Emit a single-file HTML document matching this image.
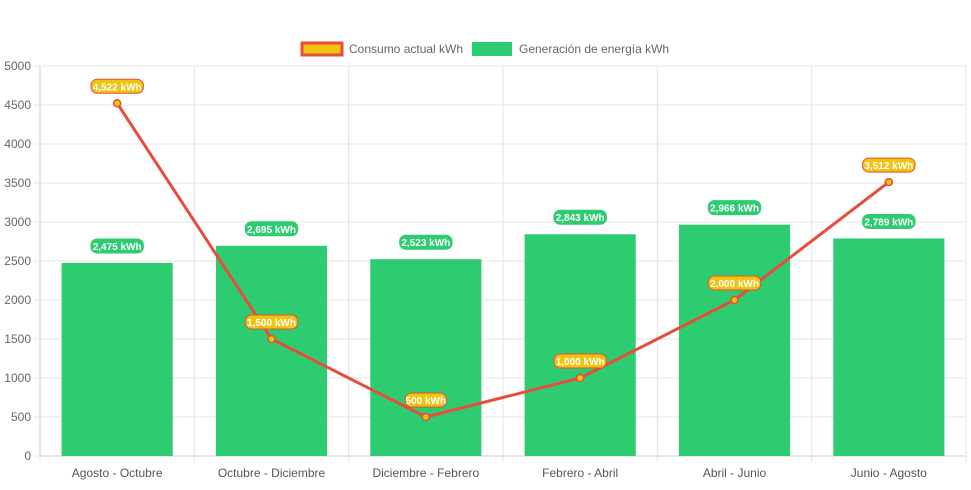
<!DOCTYPE html>
<html><head><meta charset="utf-8"><style>
body{margin:0;background:#fff;font-family:"Liberation Sans",sans-serif}
</style></head><body>
<svg id="c" width="971" height="485" xmlns="http://www.w3.org/2000/svg"></svg>
<script>
const categories=["Agosto - Octubre","Octubre - Diciembre","Diciembre - Febrero","Febrero - Abril","Abril - Junio","Junio - Agosto"];
const consumo=[4522,1500,500,1000,2000,3512];
const generacion=[2475,2695,2523,2843,2966,2789];
const yTicks=[0,500,1000,1500,2000,2500,3000,3500,4000,4500,5000];
const svg=document.getElementById('c');const NS='http://www.w3.org/2000/svg';
const L=40,R=966,T=66,B=456,yMax=5000;
const cw=(R-L)/categories.length;
const x=i=>L+cw*(i+0.5);
const y=v=>B-(v/yMax)*(B-T);
function el(t,a,p){const e=document.createElementNS(NS,t);for(const k in a)e.setAttribute(k,a[k]);(p||svg).appendChild(e);return e;}
const fmt=v=>v.toLocaleString('en-US')+' kWh';
yTicks.forEach(v=>{
 const g=el('line',{x1:L-6,x2:R,y1:y(v),y2:y(v),stroke:'#e4e4e4','stroke-width':1});
 
 const t=el('text',{x:L-9,y:y(v)+4,'text-anchor':'end','font-size':12,fill:'#666'});t.textContent=v;
 
});
for(let i=0;i<=categories.length;i++){
 const g=el('line',{x1:L+cw*i,x2:L+cw*i,y1:T,y2:B+6,stroke:'#e4e4e4','stroke-width':1});
 
}
el('line',{x1:L,x2:L,y1:T,y2:B,stroke:'#ccc'});
el('line',{x1:L,x2:R,y1:B,y2:B,stroke:'#ccc'});
categories.forEach((c,i)=>{
 const t=el('text',{x:x(i),y:B+21,'text-anchor':'middle','font-size':12,fill:'#555'});t.textContent=c;
 
});
const bw=cw*0.72;
generacion.forEach((v,i)=>{
 const r=el('rect',{x:x(i)-bw/2,y:y(v),width:bw,height:B-y(v),fill:'#2ecc71'});
 
});
const pts=consumo.map((v,i)=>x(i)+','+y(v)).join(' ');
const pl=el('polyline',{points:pts,fill:'none',stroke:'#e74c3c','stroke-width':3});

consumo.forEach((v,i)=>{
 const p=el('circle',{cx:x(i),cy:y(v),r:3.5,fill:'#f1c40f',stroke:'#e74c3c','stroke-width':1.5});
 
});
function pill(cx,cy,txt,fill,stroke){
 const w=txt.length*5.6+2;
 const r=el('rect',{x:cx-w/2,y:cy-7,width:w,height:14,rx:6,fill:fill,stroke:stroke,'stroke-width':1});
 
 const t=el('text',{x:cx,y:cy+4,'text-anchor':'middle','font-size':10,'font-weight':'bold',fill:'#fff'});t.textContent=txt;
 
}
generacion.forEach((v,i)=>pill(x(i),y(v)-17,fmt(v),'#2ecc71','#2ecc71'));
consumo.forEach((v,i)=>pill(x(i),y(v)-17,fmt(v),'#f1c40f','#e74c3c'));
const lg=el('g',{});
const s1=el('rect',{x:302,y:43,width:40,height:12,fill:'#f1c40f',stroke:'#e74c3c','stroke-width':3},lg);

const t1=el('text',{x:349,y:53,'font-size':12,fill:'#666'},lg);t1.textContent='Consumo actual kWh';

const s2=el('rect',{x:472,y:42,width:40,height:14,fill:'#2ecc71'},lg);

const t2=el('text',{x:519,y:53,'font-size':12,fill:'#666'},lg);t2.textContent='Generación de energía kWh';

</script>
</body></html>
